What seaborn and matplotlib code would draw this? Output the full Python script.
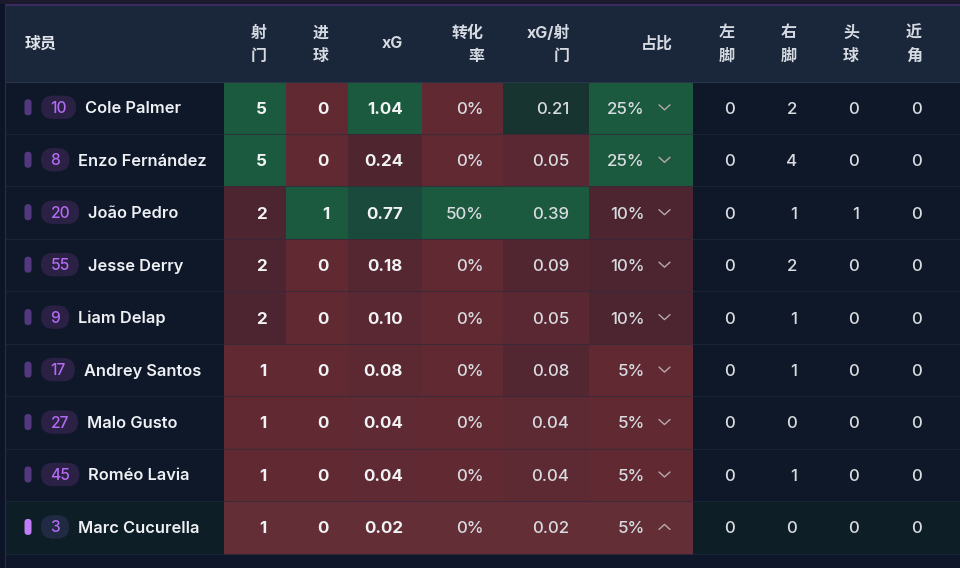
import matplotlib
matplotlib.use("Agg")
import matplotlib.pyplot as plt
from matplotlib.colors import LinearSegmentedColormap
from matplotlib.patches import FancyBboxPatch, Rectangle
import numpy as np
import seaborn as sns

# ---- data ----
numbers = [10, 8, 20, 55, 9, 17, 27, 45, 3]
players = ["Cole Palmer", "Enzo Fernández", "João Pedro", "Jesse Derry", "Liam Delap",
           "Andrey Santos", "Malo Gusto", "Roméo Lavia", "Marc Cucurella"]
shots = [5, 5, 2, 2, 2, 1, 1, 1, 1]
goals = [0, 0, 1, 0, 0, 0, 0, 0, 0]
xg = [1.04, 0.24, 0.77, 0.18, 0.10, 0.08, 0.04, 0.04, 0.02]
conversion = [0, 0, 50, 0, 0, 0, 0, 0, 0]
xg_per_shot = [0.21, 0.05, 0.39, 0.09, 0.05, 0.08, 0.04, 0.04, 0.02]
share = [25, 25, 10, 10, 10, 5, 5, 5, 5]
left_foot = [0, 0, 0, 0, 0, 0, 0, 0, 0]
right_foot = [2, 4, 1, 2, 1, 1, 0, 1, 0]
header_goals = [0, 0, 1, 0, 0, 0, 0, 0, 0]
close_range = [0, 0, 0, 0, 0, 0, 0, 0, 0]
col_labels = ["射\n门", "进\n球", "xG", "转化\n率", "xG/射\n门", "占比", "左\n脚", "右\n脚", "头\n球", "近\n角"]
player_label = "球员"
selected_row = 8

sns.set_theme(style="dark")
FONT = ["Inter", "Noto Sans CJK SC", "DejaVu Sans"]
plt.rcParams["font.family"] = FONT

W, H = 960, 568
BG = "#0f172a"
fig = plt.figure(figsize=(W / 100, H / 100), dpi=100, facecolor=BG)


def px_axes(x0, y0, x1, y1, z):
    return fig.add_axes([x0 / W, 1 - y1 / H, (x1 - x0) / W, (y1 - y0) / H], zorder=z)


back = px_axes(0, 0, W, H, 0)
back.set_xlim(0, W); back.set_ylim(H, 0); back.axis("off")
top = px_axes(0, 0, W, H, 3)
top.set_xlim(0, W); top.set_ylim(H, 0); top.axis("off"); top.patch.set_alpha(0)

ROW_TOP, ROW_H = 81.5, 52.45
n = len(players)
row_y = lambda i: ROW_TOP + ROW_H * i

# page chrome
back.add_patch(Rectangle((0, 0), 6, H, color="#0c1428", lw=0))
back.add_patch(Rectangle((0, 0), W, 4, color="#1a1a2c", lw=0))
back.add_patch(Rectangle((6, 6), W, 75.5, color="#1a2639", lw=0))
back.add_patch(Rectangle((6, 81.5), W, row_y(n) - 81.5, color="#0f1829", lw=0))
back.add_patch(Rectangle((6, row_y(selected_row)), W, ROW_H, color="#0e1e26", lw=0))
back.add_patch(Rectangle((5, 4), W, 2, color="#3a2c60", lw=0))
back.add_patch(Rectangle((5, 4), 1, H, color="#2b2c55", lw=0))

# heat columns
cmap = LinearSegmentedColormap.from_list("heat", [
    (0.0, "#612a33"), (0.25, "#4c2530"), (0.5, "#17332f"), (0.73, "#1a4a3c"), (1.0, "#1b5a3e")])
edges = [224, 285.7, 348, 421.7, 503, 589, 693]
heat_cols = [
    (shots, "{:d}", "bold", "#f1f3f5", 267),
    (goals, "{:d}", "bold", "#f1f3f5", 329),
    (xg, "{:.2f}", "bold", "#f1f3f5", 403),
    (conversion, "{:d}%", "medium", "#d8dbe0", 484),
    (xg_per_shot, "{:.2f}", "medium", "#d8dbe0", 569.5),
    (share, "{:d}%", "medium", "#d8dbe0", 644.5),
]
for k, (vals, fmt, weight, color, right) in enumerate(heat_cols):
    arr = np.array(vals, dtype=float)
    t = (arr - arr.min()) / (arr.max() - arr.min())
    ax = px_axes(edges[k], ROW_TOP, edges[k + 1], row_y(n), 1)
    labels = np.array([[fmt.format(v)] for v in vals])
    sns.heatmap(t.reshape(-1, 1), ax=ax, cmap=cmap, vmin=0, vmax=1, cbar=False,
                annot=labels, fmt="", xticklabels=False, yticklabels=False,
                annot_kws=dict(fontsize=12.2, fontweight=weight, color=color, family=FONT))
    for txt in ax.texts:
        txt.set_ha("right")
        txt.set_va("center_baseline")
        txt.set_x((right - edges[k]) / (edges[k + 1] - edges[k]))
        txt.set_color(color)

# plain columns
for vals, right in zip([left_foot, right_foot, header_goals, close_range], [735, 797, 859, 922]):
    for i, v in enumerate(vals):
        top.text(right, row_y(i) + ROW_H / 2, str(v), ha="right", va="center_baseline",
                 fontsize=12.2, fontweight="medium", color="#d8dbe0")

# header
header_rights = [267, 329, 403, 484, 570, 673, 735, 797, 859, 922]
for lab, right in zip(col_labels, header_rights):
    lines = lab.split("\n")
    ys = [33, 56] if len(lines) == 2 else [44]
    for line, y in zip(lines, ys):
        top.text(right, y, line, ha="right", va="center", fontsize=11.5, fontweight="bold", color="#d5dae2")
top.text(25, 44, player_label, ha="left", va="center", fontsize=11.5, fontweight="bold", color="#dfe3ea")

# separators
for i in range(1, n + 1):
    y = row_y(i)
    back.plot([6, W], [y, y], color="#1a2436", lw=0.8)
    top.plot(edges[0:1] + edges[-1:], [y, y], color="#33293a", lw=0.8, alpha=0.7)
top.plot([6, W], [81.5, 81.5], color="#2a3547", lw=0.8)
# selected row tint
top.add_patch(Rectangle((edges[0], row_y(selected_row)), edges[-1] - edges[0], ROW_H,
                        color="white", alpha=0.02, lw=0))

# player cells
fig.canvas.draw()
renderer = fig.canvas.get_renderer()
for i, (num, name) in enumerate(zip(numbers, players)):
    yc = row_y(i) + ROW_H / 2 - 0.4
    sel = i == selected_row
    top.add_patch(FancyBboxPatch((24.5, yc - 8), 7, 16, boxstyle="round,pad=0,rounding_size=3.4",
                                 fc="#c07df7" if sel else "#54387f", ec="none", lw=0))
    nt = top.text(50.5, yc - 0.5, str(num), ha="left", va="center_baseline", fontsize=11.2,
                  fontweight="medium", color="#b36bf0", zorder=3)
    w = nt.get_window_extent(renderer).width
    pill_w = w + 18.5
    top.add_patch(FancyBboxPatch((41, yc - 11.7), pill_w, 23.4, boxstyle="round,pad=0,rounding_size=11.6",
                                 fc="#202a42" if sel else "#2a2145", ec="none", lw=0, zorder=1))
    top.text(41 + pill_w + 9, yc, name, ha="left", va="center_baseline", fontsize=11.8,
             fontweight="semibold", color="#eef0f4", zorder=3)

    # expand chevron
    d = -1 if sel else 1
    top.plot([659, 664.5, 670], [yc - 2.5 * d, yc + 2.5 * d, yc - 2.5 * d], color="#b9a8ac", lw=1,
             solid_capstyle="round", solid_joinstyle="round")

fig.savefig("out.png", dpi=100, facecolor=BG)
